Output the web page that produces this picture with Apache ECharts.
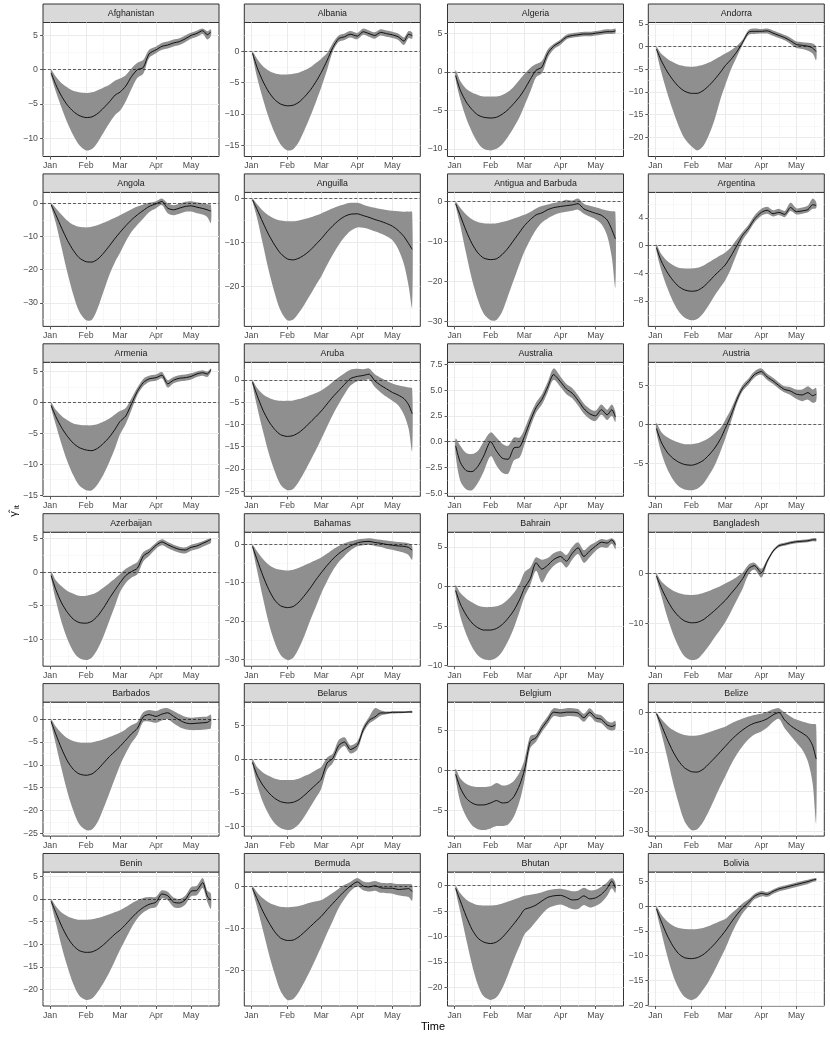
<!DOCTYPE html>
<html>
<head>
<meta charset="utf-8">
<script src="https://cdn.jsdelivr.net/npm/echarts@6/dist/echarts.min.js"></script>
<style>
html, body { margin: 0; padding: 0; background: #fff; }
#main { width: 830px; height: 1038px; }
</style>
</head>
<body>
<div id="main"></div>
<script>
// x = days since 1 Jan 2020
const days = [1, 5, 10, 15, 20, 25, 31, 36, 41, 46, 51, 56, 60, 65, 70, 75, 80, 85, 91, 96, 101, 106, 111, 116, 121, 126, 131, 135, 138]
const monthDays = [0, 31, 60, 91, 121]
const monthNames = ['Jan', 'Feb', 'Mar', 'Apr', 'May']
const minorDays = [15.5, 45.5, 75.5, 106, 136]

const countries = ['Afghanistan', 'Albania', 'Algeria', 'Andorra', 'Angola', 'Anguilla', 'Antigua and Barbuda', 'Argentina',
  'Armenia', 'Aruba', 'Australia', 'Austria', 'Azerbaijan', 'Bahamas', 'Bahrain', 'Bangladesh',
  'Barbados', 'Belarus', 'Belgium', 'Belize', 'Benin', 'Bermuda', 'Bhutan', 'Bolivia']
// y break step of each panel
const yStep = [5, 5, 5, 5, 10, 10, 10, 4, 5, 5, 2.5, 5, 5, 10, 5, 10, 5, 5, 5, 10, 5, 10, 5, 5]

const afghanistanFit = [-0.5, -2.2, -3.9, -5.2, -6.1, -6.7, -7.0, -6.9, -6.4, -5.6, -4.7, -3.7, -3.3, -2.4, -1.0, 0.0, 0.3, 2.3, 2.9, 3.4, 3.6, 3.9, 4.1, 4.5, 5.0, 5.3, 5.7, 5.1, 5.5]
const afghanistanLow = [-0.9, -3.2, -5.6, -7.8, -9.6, -11.0, -11.8, -11.6, -10.6, -9.2, -7.8, -6.6, -6.0, -4.6, -2.8, -1.2, -0.6, 1.7, 2.4, 2.9, 3.1, 3.4, 3.6, 4.0, 4.5, 4.8, 5.2, 4.4, 4.9]
const afghanistanHigh = [0.0, -1.0, -2.0, -2.6, -3.1, -3.3, -3.4, -3.3, -3.0, -2.6, -2.2, -1.6, -1.3, -0.8, 0.2, 1.0, 1.4, 2.9, 3.4, 3.9, 4.1, 4.4, 4.6, 5.0, 5.4, 5.7, 6.0, 5.6, 5.9]

const albaniaFit = [-0.3, -2.6, -4.8, -6.5, -7.7, -8.4, -8.7, -8.6, -8.1, -7.2, -6.1, -4.7, -3.4, -1.5, 0.6, 2.0, 2.3, 2.7, 2.4, 3.1, 2.8, 2.5, 3.0, 2.8, 2.6, 2.3, 1.6, 2.7, 2.5]
const albaniaLow = [-0.6, -4.2, -7.6, -10.6, -13.0, -14.8, -15.8, -15.6, -14.4, -12.4, -10.2, -7.8, -5.8, -3.0, 0.0, 1.5, 1.8, 2.2, 1.9, 2.6, 2.3, 2.0, 2.5, 2.3, 2.1, 1.8, 1.0, 2.1, 2.0]
const albaniaHigh = [0.0, -1.2, -2.4, -3.1, -3.5, -3.7, -3.7, -3.6, -3.4, -3.0, -2.5, -1.8, -1.2, -0.3, 1.3, 2.5, 2.8, 3.2, 2.9, 3.6, 3.3, 3.0, 3.5, 3.3, 3.1, 2.8, 2.2, 3.2, 3.0]

const algeriaFit = [-0.5, -2.4, -3.9, -4.9, -5.6, -5.9, -6.0, -5.9, -5.5, -4.9, -4.1, -3.2, -2.3, -1.0, 0.2, 0.6, 2.4, 3.3, 3.9, 4.5, 4.7, 4.8, 4.9, 4.9, 5.0, 5.1, 5.2, 5.2, 5.3]
const algeriaLow = [-1.0, -3.6, -6.0, -7.8, -9.2, -10.0, -10.2, -10.0, -9.4, -8.4, -7.2, -5.8, -4.4, -2.6, -0.7, -0.2, 1.8, 2.9, 3.5, 4.2, 4.4, 4.5, 4.6, 4.6, 4.7, 4.8, 4.9, 4.9, 5.0]
const algeriaHigh = [0.2, -1.2, -2.2, -2.7, -3.0, -3.2, -3.2, -3.2, -3.0, -2.6, -1.9, -1.0, -0.3, 0.5, 1.0, 1.4, 2.9, 3.6, 4.2, 4.8, 5.0, 5.1, 5.2, 5.2, 5.3, 5.4, 5.5, 5.5, 5.6]

const andorraFit = [-0.5, -3.0, -5.4, -7.3, -8.8, -9.8, -10.3, -10.3, -9.7, -8.6, -7.2, -5.6, -4.2, -2.8, -1.1, 1.0, 3.2, 3.4, 3.4, 3.5, 3.0, 2.5, 2.0, 1.3, 0.5, 0.3, 0.1, -0.3, -1.1]
const andorraLow = [-1.0, -5.5, -10.0, -14.0, -17.5, -20.2, -22.0, -22.9, -22.0, -19.5, -16.0, -11.5, -8.5, -5.0, -2.2, 0.5, 2.6, 2.8, 2.9, 2.9, 2.4, 1.9, 1.4, 0.6, -0.3, -0.5, -0.9, -1.5, -3.0]
const andorraHigh = [0.0, -1.5, -2.6, -3.4, -4.0, -4.3, -4.4, -4.3, -4.0, -3.5, -2.8, -2.1, -1.5, -0.8, 0.2, 1.6, 3.7, 4.0, 3.9, 4.0, 3.6, 3.1, 2.6, 2.0, 1.2, 1.0, 0.9, 0.7, 0.0]

const angolaFit = [-0.5, -3.5, -7.5, -11.2, -14.2, -16.4, -17.6, -17.7, -16.8, -15.0, -12.8, -10.5, -8.8, -6.8, -5.0, -3.5, -2.2, -1.0, -0.2, 0.5, -1.5, -2.0, -1.5, -1.0, -0.8, -1.2, -1.6, -2.0, -2.4]
const angolaLow = [-1.0, -6.0, -13.5, -21.0, -27.5, -32.5, -35.2, -35.0, -31.5, -26.5, -21.5, -17.5, -15.0, -11.5, -8.6, -6.5, -4.6, -2.7, -1.5, -0.6, -3.0, -3.6, -3.2, -2.6, -2.5, -3.0, -3.4, -4.2, -6.0]
const angolaHigh = [0.0, -1.5, -3.5, -5.3, -6.5, -7.1, -7.3, -7.1, -6.6, -5.9, -5.1, -4.3, -3.6, -2.7, -1.8, -1.0, -0.4, 0.1, 0.6, 1.4, 0.0, -0.6, -0.2, 0.4, 0.6, 0.3, 0.0, -0.3, -0.5]

const anguillaFit = [-0.3, -2.5, -5.5, -8.3, -10.6, -12.5, -13.8, -14.0, -13.6, -12.8, -11.7, -10.3, -9.2, -7.6, -6.2, -5.0, -4.1, -3.6, -3.5, -3.9, -4.3, -4.8, -5.2, -5.7, -6.3, -7.3, -8.7, -10.3, -11.6]
const anguillaLow = [-0.6, -4.5, -10.5, -16.5, -21.5, -25.5, -27.8, -27.6, -26.0, -24.0, -21.8, -19.5, -17.8, -15.2, -12.8, -10.6, -8.8, -7.4, -6.6, -6.7, -7.0, -7.5, -8.0, -8.6, -9.5, -11.5, -15.0, -20.0, -24.8]
const anguillaHigh = [0.0, -1.3, -2.8, -3.9, -4.6, -5.0, -5.2, -5.2, -5.0, -4.7, -4.3, -3.8, -3.4, -2.8, -2.2, -1.7, -1.3, -1.0, -1.0, -1.4, -1.8, -2.1, -2.4, -2.6, -2.8, -2.9, -3.0, -3.0, -3.1]

const antiguaFit = [-0.5, -3.5, -7.3, -10.5, -12.8, -14.1, -14.5, -14.3, -13.2, -11.6, -9.6, -7.6, -6.0, -4.5, -3.3, -2.8, -2.0, -1.5, -1.2, -1.0, -0.8, -0.5, -1.8, -2.4, -2.9, -3.4, -4.6, -7.0, -9.3]
const antiguaLow = [-1.0, -6.0, -13.0, -19.5, -24.5, -28.0, -29.7, -29.6, -27.5, -23.5, -19.5, -15.5, -12.5, -9.5, -7.0, -5.2, -4.2, -3.4, -2.8, -2.5, -2.3, -2.0, -3.0, -3.7, -4.4, -5.6, -8.5, -14.0, -21.5]
const antiguaHigh = [0.0, -1.5, -3.2, -4.4, -5.1, -5.4, -5.5, -5.4, -5.1, -4.7, -4.2, -3.7, -3.3, -2.6, -1.7, -1.1, -0.7, -0.3, 0.0, 0.5, 0.3, 0.8, -0.5, -1.0, -1.4, -1.8, -2.2, -2.4, -2.6]

const argentinaFit = [-0.3, -2.2, -3.8, -5.0, -5.9, -6.4, -6.6, -6.5, -6.0, -5.2, -4.3, -3.5, -2.8, -1.5, 0.0, 1.5, 2.5, 3.8, 4.8, 5.1, 4.6, 4.8, 4.5, 5.5, 4.9, 5.0, 5.2, 5.9, 5.8]
const argentinaLow = [-0.8, -3.5, -6.0, -8.0, -9.5, -10.4, -10.8, -10.6, -9.8, -8.6, -7.2, -6.0, -5.0, -3.3, -1.2, 0.8, 2.0, 3.3, 4.3, 4.6, 4.2, 4.4, 4.1, 5.0, 4.5, 4.6, 4.8, 5.3, 5.4]
const argentinaHigh = [0.2, -1.2, -2.2, -2.8, -3.2, -3.3, -3.3, -3.2, -2.9, -2.4, -1.9, -1.4, -1.0, -0.2, 0.9, 2.0, 3.0, 4.3, 5.3, 5.6, 5.1, 5.3, 5.0, 6.2, 5.4, 5.5, 5.8, 6.8, 6.3]

const armeniaFit = [-0.5, -2.3, -4.1, -5.5, -6.6, -7.3, -7.7, -7.8, -7.4, -6.6, -5.6, -4.3, -3.1, -2.2, -0.2, 1.8, 3.2, 3.8, 4.0, 4.4, 3.0, 3.6, 3.9, 4.0, 4.2, 4.6, 4.8, 4.6, 5.3]
const armeniaLow = [-0.9, -3.6, -6.8, -9.6, -11.8, -13.4, -14.2, -14.2, -13.2, -11.6, -9.6, -7.3, -5.2, -3.5, -1.2, 1.2, 2.6, 3.3, 3.5, 3.9, 2.4, 3.1, 3.4, 3.5, 3.7, 4.1, 4.3, 4.1, 4.9]
const armeniaHigh = [0.0, -1.2, -2.2, -2.9, -3.4, -3.6, -3.7, -3.7, -3.5, -3.1, -2.6, -1.9, -1.4, -0.9, 0.7, 2.4, 3.8, 4.3, 4.5, 4.9, 3.6, 4.1, 4.4, 4.5, 4.7, 5.0, 5.2, 5.0, 5.5]

const arubaFit = [-0.5, -3.5, -6.8, -9.3, -11.1, -12.3, -12.7, -12.5, -11.8, -10.7, -9.4, -8.1, -7.0, -5.4, -3.8, -2.4, -1.0, 0.3, 0.8, 1.0, 1.3, -0.2, -1.2, -2.0, -2.8, -3.4, -4.2, -5.6, -7.6]
const arubaLow = [-1.0, -6.0, -11.5, -16.5, -20.5, -23.5, -24.8, -24.5, -22.8, -20.5, -18.0, -15.5, -13.3, -10.5, -7.8, -5.4, -3.2, -1.3, -0.3, -0.2, 0.1, -1.6, -2.8, -3.8, -4.7, -5.7, -7.8, -11.0, -16.0]
const arubaHigh = [0.0, -1.8, -3.2, -4.0, -4.5, -4.7, -4.7, -4.6, -4.3, -3.9, -3.4, -2.9, -2.4, -1.5, -0.4, 0.6, 1.5, 2.3, 2.5, 2.4, 2.6, 1.3, 0.5, -0.2, -0.8, -1.2, -1.5, -1.7, -1.9]

const australiaFit = [-0.4, -2.0, -2.8, -2.9, -2.4, -1.4, 0.0, -0.9, -1.6, -1.7, -0.6, -0.5, 0.5, 2.0, 3.3, 4.1, 5.3, 6.5, 5.8, 5.1, 4.7, 4.0, 3.2, 2.7, 2.5, 3.1, 2.6, 3.1, 2.4]
const australiaLow = [-1.3, -3.8, -4.6, -4.7, -4.0, -2.9, -1.4, -2.3, -3.0, -3.1, -1.8, -1.5, -0.3, 1.4, 2.8, 3.6, 4.8, 6.0, 5.3, 4.6, 4.2, 3.5, 2.7, 2.2, 2.0, 2.6, 2.1, 2.5, 1.9]
const australiaHigh = [0.3, -0.4, -1.1, -1.2, -0.9, 0.0, 0.9, 0.4, -0.2, -0.4, 0.4, 0.4, 1.2, 2.6, 3.8, 4.6, 5.8, 7.1, 6.3, 5.6, 5.2, 4.5, 3.7, 3.2, 3.0, 3.6, 3.1, 3.6, 2.9]

const austriaFit = [-0.5, -2.2, -3.5, -4.3, -4.8, -5.1, -5.2, -5.0, -4.6, -3.9, -3.0, -1.8, -0.5, 1.2, 3.2, 4.7, 5.5, 6.4, 6.8, 6.1, 5.6, 5.0, 4.5, 4.3, 3.9, 3.8, 4.1, 3.7, 3.9]
const austriaLow = [-1.0, -3.5, -5.6, -7.0, -7.9, -8.3, -8.4, -8.2, -7.6, -6.5, -5.2, -3.4, -1.8, 0.4, 2.7, 4.3, 5.1, 6.0, 6.4, 5.7, 5.2, 4.6, 4.1, 3.8, 3.3, 3.0, 3.2, 2.8, 3.0]
const austriaHigh = [0.2, -0.9, -1.6, -2.0, -2.3, -2.5, -2.5, -2.4, -2.1, -1.7, -1.1, -0.4, 0.6, 2.0, 3.7, 5.1, 5.9, 6.8, 7.2, 6.5, 6.0, 5.4, 4.9, 4.8, 4.5, 4.5, 4.9, 4.5, 4.7]

const azerbaijanFit = [-0.5, -2.6, -4.6, -6.0, -7.0, -7.5, -7.6, -7.3, -6.5, -5.3, -3.9, -2.6, -1.6, -0.5, 0.1, 0.6, 2.4, 3.0, 4.0, 4.5, 4.1, 3.7, 3.4, 3.3, 3.7, 3.9, 4.3, 4.6, 4.9]
const azerbaijanLow = [-0.9, -4.2, -7.5, -10.0, -11.8, -12.8, -13.1, -12.7, -11.4, -9.5, -7.2, -4.9, -3.0, -1.6, -0.8, -0.3, 1.6, 2.4, 3.5, 4.0, 3.6, 3.2, 2.9, 2.8, 3.2, 3.4, 3.8, 4.1, 4.4]
const azerbaijanHigh = [0.1, -1.2, -2.1, -2.8, -3.2, -3.5, -3.5, -3.3, -2.9, -2.3, -1.6, -0.9, -0.3, 0.5, 1.0, 1.5, 3.0, 3.5, 4.4, 4.9, 4.5, 4.1, 3.8, 3.7, 4.1, 4.3, 4.6, 4.9, 5.05]

const bahamasFit = [-0.5, -4.0, -8.2, -11.8, -14.5, -16.0, -16.5, -16.2, -15.0, -13.2, -11.2, -9.0, -7.4, -5.5, -3.8, -2.4, -1.3, -0.4, 0.4, 0.7, 0.8, 0.5, 0.3, 0.0, -0.2, -0.4, -0.5, -0.8, -1.5]
const bahamasLow = [-1.0, -6.8, -14.0, -20.5, -25.5, -28.8, -30.2, -29.6, -27.0, -23.5, -19.5, -15.8, -12.8, -9.6, -6.8, -4.6, -3.0, -1.6, -0.5, -0.2, -0.1, -0.4, -0.7, -1.1, -1.4, -1.8, -2.2, -2.8, -4.0]
const bahamasHigh = [0.0, -1.8, -3.8, -5.3, -6.2, -6.6, -6.8, -6.6, -6.1, -5.4, -4.7, -4.0, -3.4, -2.4, -1.3, -0.4, 0.3, 0.8, 1.3, 1.5, 1.6, 1.4, 1.2, 1.0, 0.8, 0.6, 0.5, 0.3, -0.4]

const bahrainFit = [-0.5, -2.2, -3.6, -4.6, -5.2, -5.5, -5.5, -5.3, -4.8, -4.0, -3.0, -1.6, -0.2, 1.0, 3.0, 2.2, 2.7, 3.4, 3.8, 3.2, 4.2, 4.9, 3.8, 4.5, 5.1, 5.6, 5.5, 5.9, 5.3]
const bahrainLow = [-1.0, -3.8, -6.0, -7.6, -8.7, -9.2, -9.3, -9.0, -8.2, -6.9, -5.2, -3.1, -1.3, 0.2, 2.0, 0.5, 1.7, 2.6, 3.1, 2.4, 3.4, 4.1, 3.0, 3.7, 4.5, 5.0, 4.9, 5.4, 4.7]
const bahrainHigh = [0.2, -0.8, -1.5, -2.0, -2.4, -2.6, -2.6, -2.5, -2.2, -1.6, -0.8, 0.4, 1.8, 2.4, 3.7, 3.4, 3.6, 4.2, 4.5, 4.0, 5.0, 5.6, 4.6, 5.2, 5.6, 6.0, 5.9, 6.1, 5.7]

const bangladeshFit = [-0.5, -2.8, -5.2, -7.2, -8.6, -9.5, -9.9, -9.8, -9.3, -8.4, -7.4, -6.3, -5.4, -4.0, -2.6, -1.0, 1.0, 1.6, 0.2, 2.5, 4.5, 5.6, 5.9, 6.2, 6.4, 6.5, 6.6, 6.8, 6.8]
const bangladeshLow = [-1.0, -4.3, -8.5, -12.0, -14.7, -16.6, -17.4, -17.2, -16.0, -14.5, -12.8, -11.2, -9.8, -7.6, -5.3, -3.0, -0.2, 0.8, -0.8, 2.0, 4.2, 5.3, 5.6, 5.9, 6.1, 6.2, 6.3, 6.5, 6.5]
const bangladeshHigh = [0.0, -1.5, -2.6, -3.4, -3.9, -4.2, -4.3, -4.2, -3.9, -3.5, -3.0, -2.5, -2.0, -1.4, -0.7, 0.2, 1.8, 2.2, 1.0, 2.9, 4.8, 5.9, 6.2, 6.5, 6.7, 6.8, 6.9, 7.1, 7.1]

const barbadosFit = [-0.5, -3.3, -6.5, -9.2, -11.0, -12.0, -12.3, -12.0, -11.0, -9.6, -8.2, -7.0, -6.0, -4.6, -3.2, -2.0, 0.5, 1.0, 0.6, 1.1, 1.4, 0.6, -0.2, -0.8, -1.0, -0.9, -0.8, -0.7, -0.2]
const barbadosLow = [-1.0, -5.5, -11.0, -16.0, -20.0, -23.0, -24.3, -24.2, -22.5, -19.5, -16.2, -12.8, -10.2, -7.5, -5.2, -3.4, -0.6, -0.5, -0.8, -0.3, 0.0, -0.9, -1.7, -2.2, -2.4, -2.4, -2.3, -2.2, -2.0]
const barbadosHigh = [0.0, -1.6, -3.1, -4.2, -4.8, -5.1, -5.2, -5.1, -4.8, -4.4, -3.9, -3.4, -3.0, -2.2, -1.3, -0.6, 1.5, 2.0, 1.8, 2.3, 2.4, 1.8, 1.1, 0.5, 0.3, 0.4, 0.5, 0.6, 1.0]

const belarusFit = [-0.5, -2.4, -3.9, -5.0, -5.8, -6.3, -6.5, -6.4, -6.0, -5.3, -4.5, -3.7, -3.0, -0.6, 0.1, 2.0, 2.5, 1.4, 2.0, 4.3, 5.7, 6.2, 6.8, 6.8, 6.9, 6.9, 6.9, 6.95, 6.95]
const belarusLow = [-0.8, -3.8, -6.4, -8.2, -9.5, -10.2, -10.5, -10.3, -9.6, -8.4, -7.0, -5.6, -4.4, -1.6, -0.6, 1.2, 1.9, 0.8, 1.4, 3.8, 5.2, 5.8, 6.4, 6.6, 6.7, 6.75, 6.8, 6.8, 6.8]
const belarusHigh = [0.0, -1.2, -2.0, -2.5, -2.9, -3.1, -3.1, -3.1, -2.9, -2.5, -2.1, -1.6, -1.2, 0.2, 0.8, 2.8, 3.2, 2.0, 2.6, 4.8, 6.2, 7.5, 7.2, 7.0, 7.05, 7.05, 7.05, 7.1, 7.1]

const belgiumFit = [-0.5, -2.2, -3.5, -4.1, -4.35, -4.35, -4.1, -3.8, -4.1, -4.0, -3.3, -1.8, 0.0, 3.6, 4.1, 5.3, 6.3, 7.3, 7.2, 7.3, 7.3, 7.2, 6.6, 7.3, 6.6, 6.4, 5.7, 5.5, 5.7]
const belgiumLow = [-1.0, -4.0, -5.8, -6.9, -7.4, -7.5, -7.3, -7.0, -7.0, -6.8, -5.8, -3.8, -1.3, 2.8, 3.6, 4.8, 5.8, 6.8, 6.7, 6.8, 6.8, 6.7, 6.1, 6.8, 6.1, 5.9, 5.2, 5.0, 5.2]
const belgiumHigh = [0.2, -1.0, -1.7, -2.0, -2.1, -2.1, -2.0, -1.6, -1.9, -1.8, -1.3, -0.2, 1.3, 4.3, 4.6, 5.8, 6.8, 7.8, 7.7, 7.8, 7.8, 7.7, 7.1, 7.8, 7.1, 6.9, 6.2, 6.0, 6.2]

const belizeFit = [-0.3, -3.0, -6.6, -9.8, -12.3, -14.0, -15.0, -15.1, -14.4, -13.0, -11.5, -9.9, -8.6, -7.0, -5.6, -4.4, -3.4, -2.7, -2.2, -1.6, -0.6, 0.0, -1.9, -3.3, -4.3, -5.2, -6.3, -8.4, -11.8]
const belizeLow = [-0.6, -5.0, -11.0, -17.5, -23.0, -27.5, -29.8, -29.6, -27.8, -25.0, -21.8, -18.6, -16.2, -13.2, -10.6, -8.5, -6.8, -5.6, -4.8, -3.8, -2.4, -1.6, -4.0, -5.8, -7.6, -9.4, -12.5, -18.0, -28.0]
const belizeHigh = [0.0, -1.6, -3.2, -4.4, -5.2, -5.7, -5.9, -5.8, -5.5, -5.0, -4.5, -4.0, -3.6, -2.8, -2.1, -1.5, -1.0, -0.6, -0.3, 0.2, 0.8, 1.1, 0.0, -1.0, -1.8, -2.3, -2.7, -2.9, -3.1]

const beninFit = [-0.5, -3.0, -6.0, -8.5, -10.3, -11.4, -11.8, -11.7, -11.1, -10.1, -8.9, -7.7, -6.9, -5.6, -4.2, -2.9, -1.9, -1.2, -0.7, 1.1, 0.7, -0.7, -0.9, -0.2, 1.7, 1.9, 3.6, 0.6, -0.3]
const beninLow = [-1.0, -5.2, -10.5, -15.0, -18.8, -21.3, -22.3, -22.0, -20.5, -18.5, -16.2, -13.5, -11.3, -8.8, -6.3, -4.3, -3.0, -2.2, -1.8, 0.1, -0.3, -1.8, -2.0, -1.3, 0.6, 0.8, 2.4, -0.7, -2.2]
const beninHigh = [0.0, -1.6, -3.0, -3.8, -4.3, -4.6, -4.6, -4.5, -4.2, -3.8, -3.4, -2.9, -2.5, -1.8, -1.0, -0.3, 0.2, 0.4, 0.5, 1.9, 1.6, 0.3, 0.0, 0.7, 2.6, 2.9, 4.6, 1.8, 1.2]

const bermudaFit = [-0.5, -3.0, -6.0, -8.6, -10.8, -12.3, -12.9, -12.8, -12.0, -10.8, -9.5, -8.2, -7.2, -5.6, -4.1, -2.6, -1.2, 0.0, 1.0, 0.0, -0.2, 0.1, -0.4, -0.5, -0.5, -0.8, -0.7, -0.6, -1.3]
const bermudaLow = [-1.0, -5.0, -10.5, -16.0, -20.8, -24.8, -27.0, -26.8, -25.0, -22.5, -19.8, -16.8, -14.4, -11.2, -8.2, -5.2, -3.0, -1.2, -0.1, -1.0, -1.3, -1.1, -1.6, -1.7, -1.8, -2.2, -2.4, -2.6, -3.5]
const bermudaHigh = [0.0, -1.5, -2.9, -3.9, -4.5, -4.9, -5.0, -4.9, -4.7, -4.3, -3.9, -3.6, -3.3, -2.5, -1.6, -0.6, 0.3, 1.0, 1.9, 1.1, 0.9, 1.2, 0.8, 0.7, 0.7, 0.5, 0.5, 0.5, 0.3]

const bhutanFit = [-0.5, -3.0, -6.0, -8.6, -10.3, -11.1, -11.4, -11.1, -10.2, -8.9, -7.5, -6.0, -4.7, -4.3, -3.8, -3.0, -2.3, -2.0, -1.9, -2.3, -2.8, -2.7, -2.0, -2.6, -2.4, -1.7, -0.5, 0.9, -0.4]
const bhutanLow = [-1.0, -5.2, -10.5, -15.5, -19.5, -21.8, -22.5, -22.0, -20.2, -17.5, -14.5, -11.8, -9.6, -8.4, -7.0, -5.6, -4.5, -4.0, -3.7, -4.1, -4.6, -4.6, -3.8, -4.3, -4.0, -3.3, -2.0, -0.5, -1.4]
const bhutanHigh = [0.0, -1.5, -2.7, -3.4, -3.8, -3.9, -3.9, -3.8, -3.5, -3.1, -2.7, -2.3, -2.0, -1.8, -1.6, -1.3, -0.9, -0.7, -0.6, -0.8, -1.1, -1.0, -0.4, -0.9, -0.8, -0.2, 0.7, 1.5, 0.6]

const boliviaFit = [-0.5, -3.0, -5.8, -8.0, -9.6, -10.4, -10.6, -10.4, -9.8, -8.8, -7.6, -6.2, -5.0, -3.3, -1.7, -0.3, 0.8, 2.0, 2.6, 2.4, 3.0, 3.5, 3.8, 4.1, 4.4, 4.7, 5.0, 5.3, 5.45]
const boliviaLow = [-1.0, -5.0, -9.8, -13.8, -16.6, -18.3, -18.95, -18.4, -16.9, -15.1, -12.9, -10.5, -8.6, -5.8, -3.4, -1.4, 0.0, 1.4, 2.0, 1.9, 2.5, 3.0, 3.3, 3.6, 3.9, 4.2, 4.5, 4.9, 5.1]
const boliviaHigh = [0.0, -1.6, -3.0, -3.9, -4.4, -4.6, -4.65, -4.6, -4.4, -4.0, -3.5, -3.0, -2.6, -1.5, -0.5, 0.6, 1.4, 2.5, 3.1, 2.9, 3.4, 3.9, 4.2, 4.5, 4.8, 5.1, 5.35, 5.6, 5.7]

const panels = [
  [afghanistanFit, afghanistanLow, afghanistanHigh],
  [albaniaFit, albaniaLow, albaniaHigh],
  [algeriaFit, algeriaLow, algeriaHigh],
  [andorraFit, andorraLow, andorraHigh],
  [angolaFit, angolaLow, angolaHigh],
  [anguillaFit, anguillaLow, anguillaHigh],
  [antiguaFit, antiguaLow, antiguaHigh],
  [argentinaFit, argentinaLow, argentinaHigh],
  [armeniaFit, armeniaLow, armeniaHigh],
  [arubaFit, arubaLow, arubaHigh],
  [australiaFit, australiaLow, australiaHigh],
  [austriaFit, austriaLow, austriaHigh],
  [azerbaijanFit, azerbaijanLow, azerbaijanHigh],
  [bahamasFit, bahamasLow, bahamasHigh],
  [bahrainFit, bahrainLow, bahrainHigh],
  [bangladeshFit, bangladeshLow, bangladeshHigh],
  [barbadosFit, barbadosLow, barbadosHigh],
  [belarusFit, belarusLow, belarusHigh],
  [belgiumFit, belgiumLow, belgiumHigh],
  [belizeFit, belizeLow, belizeHigh],
  [beninFit, beninLow, beninHigh],
  [bermudaFit, bermudaLow, bermudaHigh],
  [bhutanFit, bhutanLow, bhutanHigh],
  [boliviaFit, boliviaLow, boliviaHigh]
]

panels.forEach((p, i) => p.forEach((arr, k) => {
  if (arr.length !== days.length) throw new Error(countries[i] + ' array ' + k + ' has ' + arr.length)
}))

// layout (px)
const FONT = '"Liberation Sans", Arial, sans-serif'
const colLeft = [43, 244.3, 447.5, 648.3]
const panelW = 176
const panelH = 134
const stripH = 18.5
const rowTop0 = 22.5
const rowStep = 169.9
const xMin = -6
const xMax = 145

const fmtMinus = (s) => s.replace('-', '\u2212')

const grid = []
const xAxis = []
const yAxis = []
const series = []
const graphic = []

panels.forEach(([fit, low, high], i) => {
  const r = Math.floor(i / 4)
  const c = i % 4
  const left = colLeft[c]
  const top = rowTop0 + r * rowStep

  grid.push({ left, top, width: panelW, height: panelH, show: true, backgroundColor: '#fff', borderColor: '#333', borderWidth: 1, containLabel: false })

  // ggplot style 5% expansion
  const lo = Math.min(...low)
  const hi = Math.max(...high)
  const pad = (hi - lo) * 0.05
  const yMin = lo - pad
  const yMax = hi + pad
  const step = yStep[i]
  const major = []
  for (let k = Math.ceil(yMin / step); k * step <= yMax; k++) major.push(+(k * step).toFixed(4))
  const minor = []
  for (let k = Math.ceil(yMin / step - 0.5); (k + 0.5) * step <= yMax; k++) minor.push(+((k + 0.5) * step).toFixed(4))
  const decimals = major.some(v => !Number.isInteger(v)) ? 1 : 0

  xAxis.push({
    type: 'value', gridIndex: i, min: xMin, max: xMax, position: 'bottom',
    axisLine: { show: false, onZero: false },
    axisTick: { show: true, length: 3, lineStyle: { color: '#333', width: 0.8 }, customValues: monthDays },
    axisLabel: {
      customValues: monthDays, margin: 5, fontSize: 8.8, fontFamily: FONT, color: '#4D4D4D',
      formatter: (v) => monthNames[monthDays.indexOf(v)]
    },
    splitLine: { show: true, lineStyle: { color: '#EBEBEB', width: 1 } }
  })
  xAxis.push({
    type: 'value', gridIndex: i, min: xMin, max: xMax, position: 'bottom',
    axisLine: { show: false, onZero: false },
    axisTick: { show: false, customValues: minorDays },
    axisLabel: { show: false, customValues: minorDays },
    splitLine: { show: true, lineStyle: { color: '#F3F3F3', width: 0.6 } }
  })
  yAxis.push({
    type: 'value', gridIndex: i, min: yMin, max: yMax, position: 'left',
    axisLine: { show: false, onZero: false },
    axisTick: { show: true, length: 3, lineStyle: { color: '#333', width: 0.8 }, customValues: major },
    axisLabel: {
      customValues: major, margin: 5, fontSize: 8.8, fontFamily: FONT, color: '#4D4D4D',
      formatter: (v) => fmtMinus(v.toFixed(decimals))
    },
    splitLine: { show: true, lineStyle: { color: '#EBEBEB', width: 1 } }
  })
  yAxis.push({
    type: 'value', gridIndex: i, min: yMin, max: yMax, position: 'left',
    axisLine: { show: false, onZero: false },
    axisTick: { show: false, customValues: minor },
    axisLabel: { show: false, customValues: minor },
    splitLine: { show: true, lineStyle: { color: '#F3F3F3', width: 0.6 } }
  })

  const xi = 2 * i
  const yi = 2 * i
  // confidence band: one polygon placed through the panel's own axes
  series.push({
    type: 'custom', xAxisIndex: xi, yAxisIndex: yi, silent: true, z: 2,
    data: days.map((d, k) => [d, low[k], high[k]]),
    encode: { x: 0, y: [1, 2] },
    renderItem: (params, api) => {
      if (params.dataIndex !== 0) return null
      const pts = []
      days.forEach((d, k) => pts.push(api.coord([d, high[k]])))
      for (let k = days.length - 1; k >= 0; k--) pts.push(api.coord([days[k], low[k]]))
      return { type: 'polygon', shape: { points: pts, smooth: 0.3 }, style: { fill: '#8F8F8F' } }
    }
  })
  series.push({
    type: 'line', xAxisIndex: xi, yAxisIndex: yi,
    data: days.map((d, k) => [d, fit[k]]),
    symbol: 'none', smooth: 0.25, silent: true,
    lineStyle: { color: '#000', width: 0.9 }, z: 3,
    markLine: {
      silent: true, symbol: 'none', label: { show: false },
      lineStyle: { color: '#000', type: [3, 2], width: 0.6 },
      data: [{ yAxis: 0 }]
    }
  })

  // facet strip
  graphic.push({
    type: 'rect', silent: true,
    shape: { x: left, y: top - stripH, width: panelW, height: stripH },
    style: { fill: '#D9D9D9', stroke: '#333', lineWidth: 1 }
  })
  graphic.push({
    type: 'text', silent: true, x: left + panelW / 2, y: top - stripH / 2 + 0.5,
    style: { text: countries[i], fontSize: 8.8, fontFamily: FONT, fill: '#1A1A1A', align: 'center', verticalAlign: 'middle' }
  })
})

// axis titles
graphic.push({
  type: 'text', silent: true, x: 433, y: 1027,
  style: { text: 'Time', fontSize: 11, fontFamily: FONT, fill: '#000', align: 'center', verticalAlign: 'middle' }
})
graphic.push({
  type: 'group', silent: true, x: 14, y: 514, rotation: Math.PI / 2,
  children: [
    { type: 'text', x: 0, y: 0, style: { text: '\u03B3\u0302', fontSize: 11, fontFamily: FONT, fill: '#000', align: 'center', verticalAlign: 'middle' } },
    { type: 'text', x: 7, y: 3, style: { text: 'it', fontSize: 8, fontFamily: FONT, fill: '#000', align: 'center', verticalAlign: 'middle' } }
  ]
})

const chart = echarts.init(document.getElementById('main'), null, { renderer: 'canvas' })
chart.setOption({
  animation: false,
  backgroundColor: '#fff',
  grid,
  xAxis,
  yAxis,
  series,
  graphic
})
</script>
</body>
</html>
